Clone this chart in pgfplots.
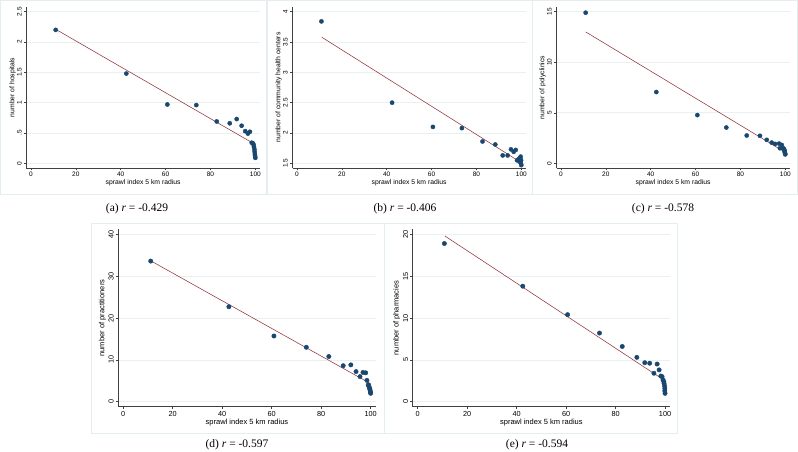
\documentclass[border=0pt]{standalone}
\usepackage{pgfplots}
\pgfplotsset{compat=1.18}
\usepackage{fontspec}
\setmainfont{Liberation Sans}
\newfontfamily\capfont{Liberation Serif}
\definecolor{navy}{RGB}{26,71,111}
\definecolor{maroon}{RGB}{144,53,59}
\definecolor{gridc}{RGB}{232,240,242}
\definecolor{framec}{RGB}{228,238,240}
\pgfplotsset{
  stata/.style={
    scale only axis,
    anchor=south west,
    axis x line*=bottom, axis y line*=left,
    axis line style={draw=black!75, line width=0.5pt},
    tick align=outside, major tick length=2.5pt,
    tick style={black!75, line width=0.5pt},
    /pgf/number format/assume math mode=true,
    xmin=-2, xmax=102, xtick={0,20,40,60,80,100},
    ymajorgrids, grid style={gridc, line width=0.6pt},
    xticklabel style={anchor=center, inner sep=0pt, yshift=-4pt},
    yticklabel style={xshift=-4.6pt, rotate=90, anchor=center, inner sep=0pt},
    every tick label/.append style={font=\fontsize{6.5}{7}\selectfont},
    label style={font=\fontsize{6.8}{8}\selectfont, inner sep=0pt},
    xlabel style={at={(axis description cs:0.5,-0.09)}, anchor=center},
    ylabel style={at={(axis description cs:-0.06,0.5)}, anchor=center},
    xlabel={sprawl index 5 km radius},
    clip=false,
  },
  big/.style={
    every tick label/.append style={font=\fontsize{7.3}{8}\selectfont},
    label style={font=\fontsize{7.5}{9}\selectfont, inner sep=0pt},
    xlabel style={at={(axis description cs:0.5,-0.087)}, anchor=center},
    ylabel style={at={(axis description cs:-0.062,0.5)}, anchor=center},
    xticklabel style={yshift=-1pt},
  },
  pts/.style={only marks, mark=*, mark size=2.1pt, mark options={fill=navy, draw=navy}},
  fit/.style={no marks, draw=maroon, line width=0.55pt},
}
\begin{document}
\begin{tikzpicture}
\path[use as bounding box] (0,0) rectangle (798pt,-452pt);
\fill[white] (0,0) rectangle (798pt,-452pt);
% panel frames
\draw[framec, line width=0.6pt] (0.5pt,-0.5pt) rectangle (266.5pt,-194pt);
\draw[framec, line width=0.6pt] (267pt,-0.5pt) rectangle (532pt,-194pt);
\draw[framec, line width=0.6pt] (532.5pt,-0.5pt) rectangle (797.5pt,-194pt);
\draw[framec, line width=0.6pt] (91pt,-223pt) rectangle (384pt,-433pt);
\draw[framec, line width=0.6pt] (384pt,-223pt) rectangle (677pt,-433pt);

% (a)
\begin{axis}[stata, at={(26.5pt,-167.8pt)}, width=233.3pt, height=160.6pt,
  ymin=-0.074, ymax=2.574, ytick={0,0.5,1,1.5,2,2.5},
  yticklabels={0,.5,1,1.5,2,2.5}, ylabel={number of hospitals}]
\addplot[fit] coordinates {(11,2.21) (100,0.31)};
\addplot[pts] coordinates {
(11.0,2.20) (42.5,1.48) (60.8,0.97) (73.7,0.96) (82.8,0.69) (88.6,0.66)
(91.7,0.73) (93.9,0.62) (95.5,0.53) (96.7,0.49) (97.6,0.52) (98.4,0.34)
(98.9,0.33) (99.2,0.31) (99.4,0.27) (99.6,0.23) (99.7,0.19) (99.8,0.15)
(99.9,0.12) (100,0.09)};
\end{axis}

% (b)
\begin{axis}[stata, at={(292.5pt,-167.8pt)}, width=233.3pt, height=160.6pt,
  ymin=1.426, ymax=4.074, ytick={1.5,2,2.5,3,3.5,4},
  yticklabels={1.5,2,2.5,3,3.5,4}, ylabel={number of community health centers}]
\addplot[fit] coordinates {(11,3.58) (100,1.51)};
\addplot[pts] coordinates {
(10.9,3.84) (42.4,2.50) (60.6,2.10) (73.5,2.08) (82.7,1.86) (88.4,1.81)
(91.7,1.63) (93.9,1.63) (95.4,1.73) (96.6,1.69) (97.5,1.72) (98.1,1.55)
(98.8,1.57) (99.2,1.53) (99.4,1.59) (99.6,1.56) (99.7,1.61) (99.8,1.50)
(99.9,1.55) (100,1.47)};
\end{axis}

% (c)
\begin{axis}[stata, at={(556.5pt,-167.8pt)}, width=233.3pt, height=160.6pt,
  ymin=-0.445, ymax=15.445, ytick={0,5,10,15},
  yticklabels={0,5,10,15}, ylabel={number of polyclinics}]
\addplot[fit] coordinates {(11,13.0) (100,1.08)};
\addplot[pts] coordinates {
(11.0,14.9) (42.5,7.05) (60.8,4.77) (73.7,3.54) (82.8,2.75) (88.7,2.72)
(91.7,2.32) (93.9,2.05) (95.4,1.92) (97.2,1.95) (98.4,1.82) (97.6,1.49)
(99.1,1.49) (99.4,1.40) (99.6,1.30) (99.7,1.18) (99.8,1.06) (99.9,0.95)
(100,0.88)};
\end{axis}

% (d)
\begin{axis}[stata, big, at={(118.3pt,-406.7pt)}, width=257.3pt, height=177.4pt,
  ymin=-1.195, ymax=41.195, ytick={0,10,20,30,40},
  yticklabels={0,10,20,30,40}, ylabel={number of practitioners}]
\addplot[fit] coordinates {(11,33.7) (100,4.3)};
\addplot[pts, mark size=2.2pt] coordinates {
(11.1,33.6) (42.7,22.7) (60.9,15.7) (74.0,13.0) (83.1,10.8) (88.9,8.6)
(92.0,8.8) (94.1,7.2) (95.7,6.0) (96.9,7.0) (98.0,6.9) (98.5,5.1)
(99.0,4.0) (99.3,3.7) (99.5,3.3) (99.7,3.0) (99.8,2.6) (99.9,2.3)
(100,2.0)};
\end{axis}

% (e)
\begin{axis}[stata, big, at={(412.7pt,-406.7pt)}, width=257.3pt, height=177.4pt,
  ymin=-0.597, ymax=20.597, ytick={0,5,10,15,20},
  yticklabels={0,5,10,15,20}, ylabel={number of pharmacies}]
\addplot[fit] coordinates {(11,19.8) (100,2.5)};
\addplot[pts, mark size=2.2pt] coordinates {
(10.8,18.9) (42.5,13.8) (60.6,10.4) (73.5,8.2) (82.7,6.6) (88.6,5.3)
(91.8,4.66) (93.8,4.6) (95.5,3.4) (96.8,4.5) (97.6,3.8) (98.3,3.07)
(98.8,3.0) (99.2,2.6) (99.5,2.4) (99.6,2.2) (99.8,1.9) (99.9,1.6)
(99.9,1.3) (100,1.0)};
\end{axis}

% captions
\node[font=\capfont\fontsize{11.5}{13}\selectfont] at (137pt,-208.5pt) {(a) \textit{r} = -0.429};
\node[font=\capfont\fontsize{11.5}{13}\selectfont] at (405pt,-208.5pt) {(b) \textit{r} = -0.406};
\node[font=\capfont\fontsize{11.5}{13}\selectfont] at (663pt,-208.5pt) {(c) \textit{r} = -0.578};
\node[font=\capfont\fontsize{11.5}{13}\selectfont] at (237pt,-445pt) {(d) \textit{r} = -0.597};
\node[font=\capfont\fontsize{11.5}{13}\selectfont] at (537pt,-445pt) {(e) \textit{r} = -0.594};
\end{tikzpicture}
\end{document}
